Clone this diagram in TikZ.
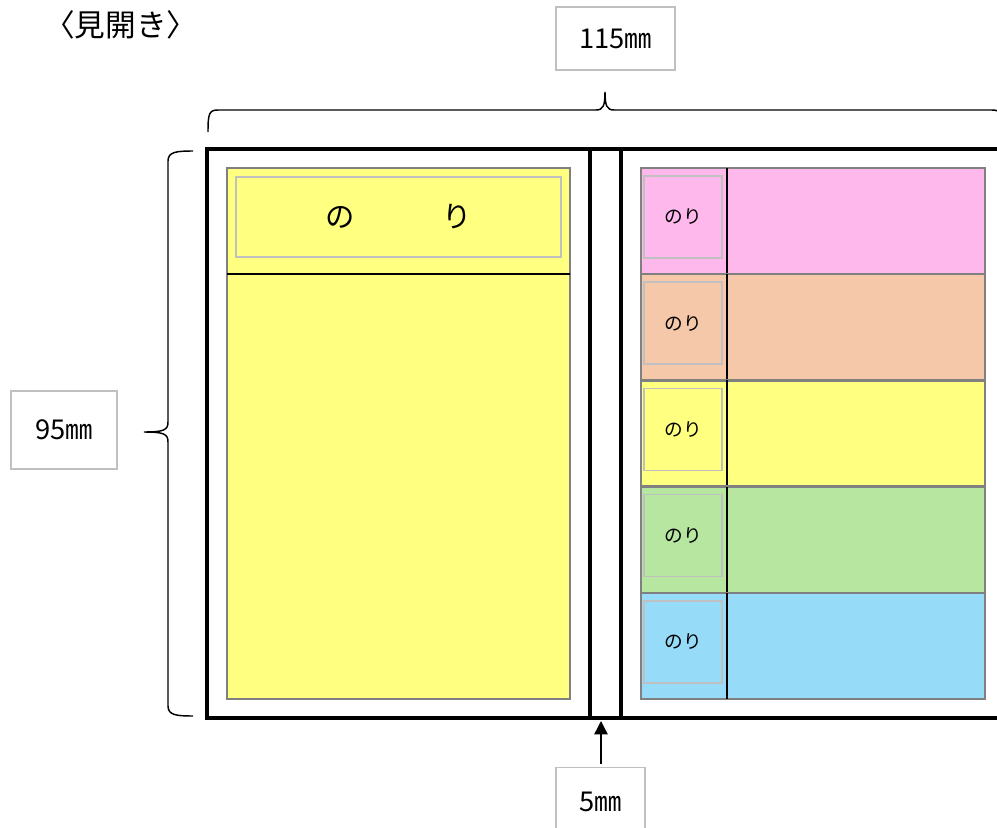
\documentclass[tikz,border=0pt]{standalone}
\usepackage{fontspec}
\newfontfamily\jp{Noto Sans CJK JP}
\usetikzlibrary{arrows.meta}
\definecolor{panelgray}{RGB}{128,128,128}
\definecolor{boxgray}{RGB}{192,192,192}
\definecolor{paperpink}{RGB}{255,184,236}
\definecolor{paperpeach}{RGB}{245,200,170}
\definecolor{paperyellow}{RGB}{255,255,128}
\definecolor{papergreen}{RGB}{182,230,160}
\definecolor{paperblue}{RGB}{150,220,248}
\tikzset{
  sizebox/.style={draw=boxgray,line width=1.2pt,fill=white,font=\jp\fontsize{20.5}{24}\selectfont},
  glue/.style={draw=boxgray,line width=1.2pt,inner sep=0pt},
  paper/.style={draw=panelgray,line width=1.8pt},
  mybrace/.style={line width=1.1pt},
}

\begin{document}
\begin{tikzpicture}[x=0.75pt,y=-0.75pt]
  \useasboundingbox (0,0) rectangle (997,828);
  \clip (0,0) rectangle (997,828);

  \node (title) at (121,25) {\jp\fontsize{23}{26}\selectfont 〈見開き〉};

  % cover
  \draw[line width=2.3pt] (207,149) rectangle (1012,718);
  \draw[line width=2.3pt] (590,149) -- (590,718);
  \draw[line width=2.3pt] (621,149) -- (621,718);

  % left page
  \draw[paper,fill=paperyellow] (227,168) rectangle (570,699);
  \draw[line width=0.8pt] (227,274) -- (570,274);
  \node[glue,fill=paperyellow,minimum width=243.75pt,minimum height=60pt,
        font=\jp\fontsize{22}{26}\selectfont] (glueL) at (398.5,217) {の　　　り};

  % right page
  \foreach \c [count=\i from 0] in {paperpink,paperpeach,paperyellow,papergreen,paperblue}{
    \draw[paper,fill=\c] (641,168+106.2*\i) rectangle (985,274.2+106.2*\i);
    \draw[line width=0.8pt] (727,168+106.2*\i) -- (727,274.2+106.2*\i);
    \node[glue,minimum width=58.5pt,minimum height=61.5pt,
          font=\jp\fontsize{14}{16}\selectfont] (glue\i) at (683,217+106.2*\i) {のり};
  }

  % dimensions
  \draw[mybrace] (208,132) .. controls (208,114) and (209,110) .. (218,110) -- (596,110)
    .. controls (603,110) and (605,106) .. (605,92)
    .. controls (605,106) and (607,110) .. (614,110) -- (992,110)
    .. controls (1001,110) and (1002,114) .. (1002,132);
  \draw[mybrace] (193,151) .. controls (176,151) and (168,152) .. (168,161) -- (168,422)
    .. controls (168,430) and (164,432) .. (144,432)
    .. controls (164,432) and (168,434) .. (168,442) -- (168,706)
    .. controls (168,715) and (176,716) .. (193,716);
  \node[sizebox,minimum width=89pt,minimum height=47pt] (width) at (615.5,38.5) {115㎜};
  \node[sizebox,minimum width=79.5pt,minimum height=58.5pt] (height) at (64,430) {95㎜};
  \node[sizebox,minimum width=66.75pt,minimum height=52pt] (gap) at (600.5,802) {5㎜};
  \coordinate (spinebot) at (601,721);
  \draw[line width=1.1pt,-{Triangle[length=10pt,width=10pt]}] (601,764) -- (spinebot);
\end{tikzpicture}
\end{document}
